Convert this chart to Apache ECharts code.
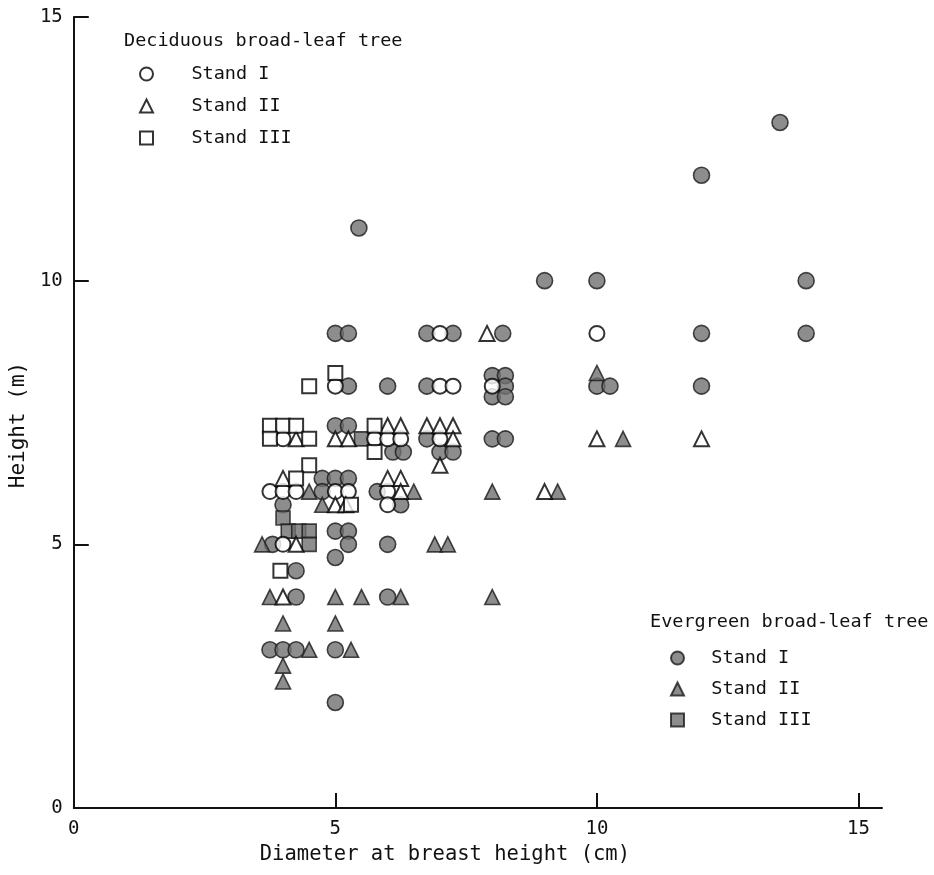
<!DOCTYPE html>
<html>
<head>
<meta charset="utf-8">
<script src="https://cdn.jsdelivr.net/npm/echarts@6/dist/echarts.min.js"></script>
<style>html,body{margin:0;padding:0;background:#fff;}#chart{width:934px;height:875px;}</style>
</head>
<body>
<div id="chart"></div>
<script>
// ---- data (diameter cm, height m) ----
var xTicks = [0, 5, 10, 15];
var yTicks = [0, 5, 10, 15];
var groupTitles = ['Deciduous broad-leaf tree', 'Evergreen broad-leaf tree'];
var standNames = ['Stand I', 'Stand II', 'Stand III'];

var decidI = [[10,9],[7,9],[5,8],[7,8],[7.25,8],[8,8],[4,7],[5.75,7],[6,7],[6.25,7],[7,7],
  [3.75,6],[4,6],[4.25,6],[5,6],[5.25,6],[6,6],[6,5.75],[4,5]];
var decidII = [[7.9,9],[4.25,7],[5,7],[5.25,7],[6,7.25],[6.25,7.25],[6.75,7.25],[7,7.25],[7.25,7.25],
  [7.25,7],[7,6.5],[4,6.25],[6,6.25],[6.25,6.25],[6.25,6],[5,5.75],[5.2,5.75],[4.25,5],[4,4],
  [9,6],[10,7],[12,7]];
var decidIII = [[5,8.25],[4.5,8],[3.75,7.25],[4,7.25],[4.25,7.25],[3.75,7],[4.5,7],[5.75,7.25],
  [5.75,6.75],[4.5,6.5],[4.25,6.25],[5.3,5.75],[3.95,4.5]];
var everI = [[13.5,13],[12,12],[5.45,11],[9,10],[10,10],[14,10],[5,9],[5.25,9],[6.75,9],[7.25,9],
  [8.2,9],[12,9],[14,9],[5.25,8],[6,8],[6.75,8],[8,8.2],[8.25,8.2],[8.25,8],[8,7.8],[8.25,7.8],
  [10,8],[10.25,8],[12,8],[5,7.25],[5.25,7.25],[6.75,7],[8,7],[8.25,7],[6.1,6.75],[6.3,6.75],
  [7,6.75],[7.25,6.75],[4.75,6.25],[5,6.25],[5.25,6.25],[4.75,6],[5.8,6],[4,5.75],[6.25,5.75],
  [5,5.25],[5.25,5.25],[3.8,5],[5.25,5],[6,5],[5,4.75],[4.25,4.5],[4.25,4],[6,4],
  [3.75,3],[4,3],[4.25,3],[5,3],[5,2]];
var everII = [[10,8.25],[4.5,6],[6.5,6],[8,6],[9.25,6],[4.75,5.75],[3.6,5],[6.9,5],[7.15,5],
  [3.75,4],[5,4],[5.5,4],[6.25,4],[8,4],[10.5,7],[4,3.5],[5,3.5],[4.5,3],[5.3,3],[4,2.7],[4,2.4]];
var everIII = [[5.5,7],[4,5.5],[4.1,5.25],[4.3,5.25],[4.5,5.25],[4.5,5]];

// ---- chart ----
var FONT = "'DejaVu Sans Mono', monospace";
var INK = '#111';
var openStyle = {color: '#fff', borderColor: '#000', borderWidth: 2};
var fillStyle = {color: '#707070', borderColor: '#1a1a1a', borderWidth: 1.6};

function ser(id, name, data, symbol, size, style, z) {
  return {id: id, name: name, type: 'scatter', data: data, symbol: symbol, symbolSize: size,
    itemStyle: style, z: z, emphasis: {disabled: true}};
}

var series = [
  ser('eI', 'E ' + standNames[0], everI, 'circle', 16, fillStyle, 2),
  ser('eII', 'E ' + standNames[1], everII, 'triangle', 15, fillStyle, 2),
  ser('eIII', 'E ' + standNames[2], everIII, 'rect', 14, fillStyle, 2),
  ser('dI', 'D ' + standNames[0], decidI, 'circle', 15, openStyle, 3),
  ser('dII', 'D ' + standNames[1], decidII, 'triangle', 15, openStyle, 3),
  ser('dIII', 'D ' + standNames[2], decidIII, 'rect', 14, openStyle, 3)
];

var legendText = {fontFamily: FONT, fontSize: 18.5, color: INK, lineHeight: 20};

var chart = echarts.init(document.getElementById('chart'), null, {renderer: 'canvas'});
chart.setOption({
  animation: false,
  backgroundColor: '#fff',
  grid: {left: 63, right: 52, top: 17, bottom: 67, containLabel: false},
  xAxis: {
    type: 'value', min: 0, max: 15.45, interval: 5,
    name: 'Diameter at breast height (cm)', nameLocation: 'middle', nameGap: 36,
    nameTextStyle: {fontFamily: FONT, fontSize: 20.5, color: INK, padding: [0, 66, 0, 0]},
    axisLine: {lineStyle: {color: INK, width: 2}},
    axisTick: {inside: true, length: 15, lineStyle: {color: INK, width: 2}, customValues: xTicks},
    axisLabel: {fontFamily: FONT, fontSize: 19, color: INK, margin: 12, customValues: xTicks},
    splitLine: {show: false}
  },
  yAxis: {
    type: 'value', min: 0, max: 15, interval: 5,
    name: 'Height (m)', nameLocation: 'middle', nameGap: 32, nameRotate: 90,
    nameTextStyle: {fontFamily: FONT, fontSize: 21, color: INK, padding: [0, 25, 0, 0]},
    axisLine: {lineStyle: {color: INK, width: 2}},
    axisTick: {inside: true, length: 15, lineStyle: {color: INK, width: 2}, customValues: yTicks},
    axisLabel: {fontFamily: FONT, fontSize: 19, color: INK, margin: 11, customValues: yTicks},
    splitLine: {show: false}
  },
  legend: [
    {data: series.slice(3).map(function (s) { return s.name; }), orient: 'vertical',
     left: 134, top: 59, itemWidth: 13, itemHeight: 13, itemGap: 12, selectedMode: false,
     formatter: function (n) { return '   ' + n.slice(2); }, textStyle: legendText},
    {data: series.slice(0, 3).map(function (s) { return s.name; }), orient: 'vertical',
     left: 665, top: 643, itemWidth: 13, itemHeight: 13, itemGap: 11, selectedMode: false,
     formatter: function (n) { return '  ' + n.slice(2); }, textStyle: legendText}
  ],
  graphic: [
    {type: 'text', left: 124, top: 32, style: {text: groupTitles[0], font: '18.5px ' + FONT, fill: INK}},
    {type: 'text', left: 650, top: 613, style: {text: groupTitles[1], font: '18.5px ' + FONT, fill: INK}}
  ],
  series: series
});
</script>
</body>
</html>
